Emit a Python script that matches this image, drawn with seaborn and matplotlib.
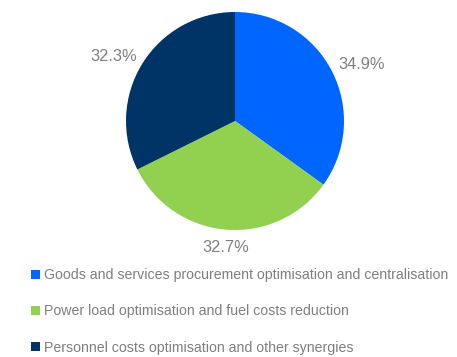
import numpy as np
import matplotlib
matplotlib.use("Agg")
import matplotlib.pyplot as plt
import seaborn as sns

# Share of synergies by source (%)
categories = [
    "Goods and services procurement optimisation and centralisation",
    "Power load optimisation and fuel costs reduction",
    "Personnel costs optimisation and other synergies",
]
shares = [34.9, 32.7, 32.3]
share_labels = ["34.9%", "32.7%", "32.3%"]
colors = ["#0066FF", "#92D050", "#003366"]

sns.set_theme(style="white")
plt.rcParams["font.family"] = ["Liberation Sans", "DejaVu Sans"]
text_color = "#7F7F7F"

W, H, DPI = 457, 357, 100
fig = plt.figure(figsize=(W / DPI, H / DPI), dpi=DPI)
fig.patch.set_facecolor("white")
ax = fig.add_axes([0, 0, 1, 1])

cx, cy, r = 235, H - 121, 109
wedges, _ = ax.pie(
    shares,
    colors=colors,
    startangle=90,
    counterclock=False,
    center=(cx, cy),
    radius=r,
    wedgeprops=dict(linewidth=0),
)
ax.set_xlim(0, W)
ax.set_ylim(0, H)
ax.set_aspect("equal")
ax.axis("off")

# value labels just outside each wedge
for w, lab in zip(wedges, share_labels):
    mid = np.deg2rad((w.theta1 + w.theta2) / 2)
    c, s = np.cos(mid), np.sin(mid)
    x, y = cx + r * 1.06 * c, cy + r * 1.06 * s
    ha = "left" if c > 0.15 else ("right" if c < -0.15 else "center")
    va = "bottom" if s > 0.15 else ("top" if s < -0.15 else "center")
    ax.annotate(lab, (x, y), xytext=(0, -2.5), textcoords="offset points",
                ha=ha, va=va, fontsize=11.8, color=text_color)

leg = fig.legend(
    wedges,
    categories,
    loc="upper left",
    bbox_to_anchor=(31 / W, 1 - 268 / H),
    frameon=False,
    fontsize=10.2,
    handlelength=0.6,
    handleheight=0.6,
    handletextpad=0.35,
    labelspacing=1.58,
    borderpad=0,
    borderaxespad=0,
)
for t in leg.get_texts():
    t.set_color(text_color)

fig.savefig("out.png", dpi=DPI, facecolor="white")
